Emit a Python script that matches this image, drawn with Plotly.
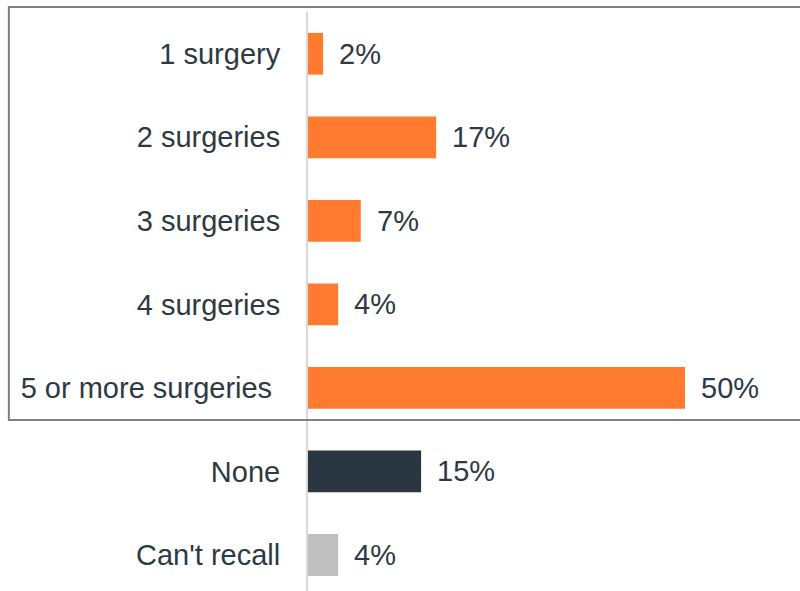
import plotly.graph_objects as go

categories = ["1 surgery", "2 surgeries", "3 surgeries", "4 surgeries",
              "5 or more surgeries", "None", "Can't recall"]
tick_labels = ["1 surgery", "2 surgeries", "3 surgeries", "4 surgeries",
               "5 or more surgeries\u00a0", "None", "Can't recall"]
values = [2, 17, 7, 4, 50, 15, 4]
colors = ["#FF7B30", "#FF7B30", "#FF7B30", "#FF7B30", "#FF7B30", "#2A3641", "#BFBFBF"]

text_color = "#2D3A44"
font_family = "Liberation Sans, Arial, sans-serif"

fig = go.Figure()
fig.add_trace(go.Bar(
    y=categories, x=values, orientation="h",
    marker=dict(color=colors, line=dict(width=0)),
    width=0.5, hoverinfo="skip",
))

for c, v in zip(categories, values):
    fig.add_annotation(x=v, y=c, text=f"{v}%", showarrow=False,
                       xanchor="left", xshift=14,
                       font=dict(size=29, color=text_color, family=font_family))

# box around the five "surgeries" rows (paper coords so it is not clipped)
fig.add_shape(type="rect", xref="paper", yref="paper",
              x0=-0.608, x1=1.01, y0=0.2953, y1=1.0086,
              line=dict(color="#808080", width=2), fillcolor="rgba(0,0,0,0)",
              layer="above")

fig.update_layout(
    width=800, height=591,
    margin=dict(l=308, r=0, t=12, b=0),
    paper_bgcolor="white", plot_bgcolor="white",
    showlegend=False,
    font=dict(family=font_family, size=29, color=text_color),
    xaxis=dict(range=[0, 65.25], visible=False, showgrid=False, zeroline=False),
    yaxis=dict(type="category", categoryorder="array", categoryarray=categories,
               tickmode="array", tickvals=categories, ticktext=tick_labels,
               range=[6.431, -0.5], showgrid=False, zeroline=False,
               showline=True, linecolor="#D9D9D9", linewidth=2,
               ticks="", ticklabelstandoff=20,
               tickfont=dict(size=29, color=text_color, family=font_family)),
)

fig.write_html("out.html", config={"displayModeBar": False},
               post_script="document.body.style.margin='0px';document.body.style.overflow='hidden';")
